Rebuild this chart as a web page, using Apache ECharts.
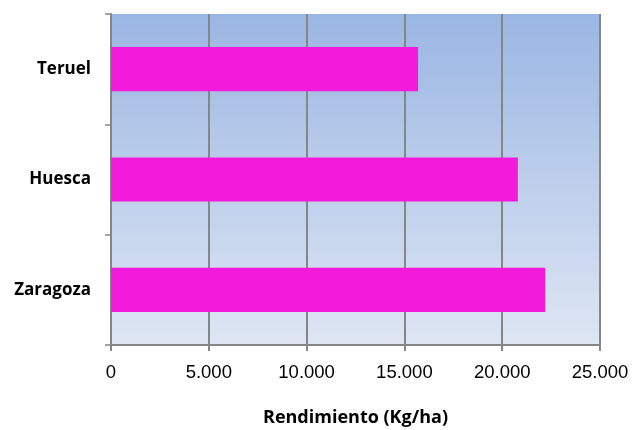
<!DOCTYPE html>
<html>
<head>
<meta charset="utf-8">
<script src="https://cdn.jsdelivr.net/npm/echarts@6/dist/echarts.min.js"></script>
<style>
  html, body { margin: 0; padding: 0; background: #fff; }
  #chart { width: 632px; height: 430px; }
</style>
</head>
<body>
<div id="chart"></div>
<script>
// Provinces (bottom to top on the category axis)
const provincias = ['Zaragoza', 'Huesca', 'Teruel'];
// Yield per province, Kg/ha
const rendimiento = [22200, 20800, 15700];
// Value axis tick settings
const ejeMin = 0;
const ejeMax = 25000;
const ejeIntervalo = 5000;

const fuente = '"Liberation Sans", "DejaVu Sans", sans-serif';
const fuenteNegrita = '"Open Sans", "Liberation Sans", sans-serif';

function formatoMiles(v) {
  return String(v).replace(/\B(?=(\d{3})+(?!\d))/g, '.');
}

const chart = echarts.init(document.getElementById('chart'));
chart.setOption({
  animation: false,
  grid: {
    left: 111, right: 32, top: 14, bottom: 85,
    outerBoundsMode: 'none',
    containLabel: false,
    show: true,
    borderWidth: 0,
    backgroundColor: new echarts.graphic.LinearGradient(0, 0, 0, 1, [
      { offset: 0, color: '#9AB6E3' },
      { offset: 1, color: '#DEE6F3' }
    ])
  },
  xAxis: {
    type: 'value',
    min: ejeMin, max: ejeMax, interval: ejeIntervalo,
    name: 'Rendimiento (Kg/ha)',
    nameLocation: 'middle',
    nameGap: 64,
    nameTextStyle: { fontFamily: fuenteNegrita, fontWeight: 'bold', fontSize: 18, color: '#000' },
    axisLine: { show: true, lineStyle: { color: '#868686', width: 2 } },
    axisTick: { show: true, length: 6, lineStyle: { color: '#868686', width: 2 } },
    axisLabel: { fontFamily: fuente, fontSize: 18.5, color: '#000', margin: 18, formatter: formatoMiles },
    splitLine: { show: true, lineStyle: { color: '#868686', width: 2 } }
  },
  yAxis: {
    type: 'category',
    data: provincias,
    axisLine: { show: true, lineStyle: { color: '#868686', width: 2 } },
    axisTick: { show: true, length: 6, lineStyle: { color: '#868686', width: 1.5 } },
    axisLabel: { fontFamily: fuenteNegrita, fontWeight: 'bold', fontSize: 17, color: '#000', margin: 20 },
    splitLine: { show: false }
  },
  series: [{
    type: 'bar',
    data: rendimiento,
    barCategoryGap: '60%',
    itemStyle: { color: '#F41ADB' }
  }]
});
</script>
</body>
</html>
